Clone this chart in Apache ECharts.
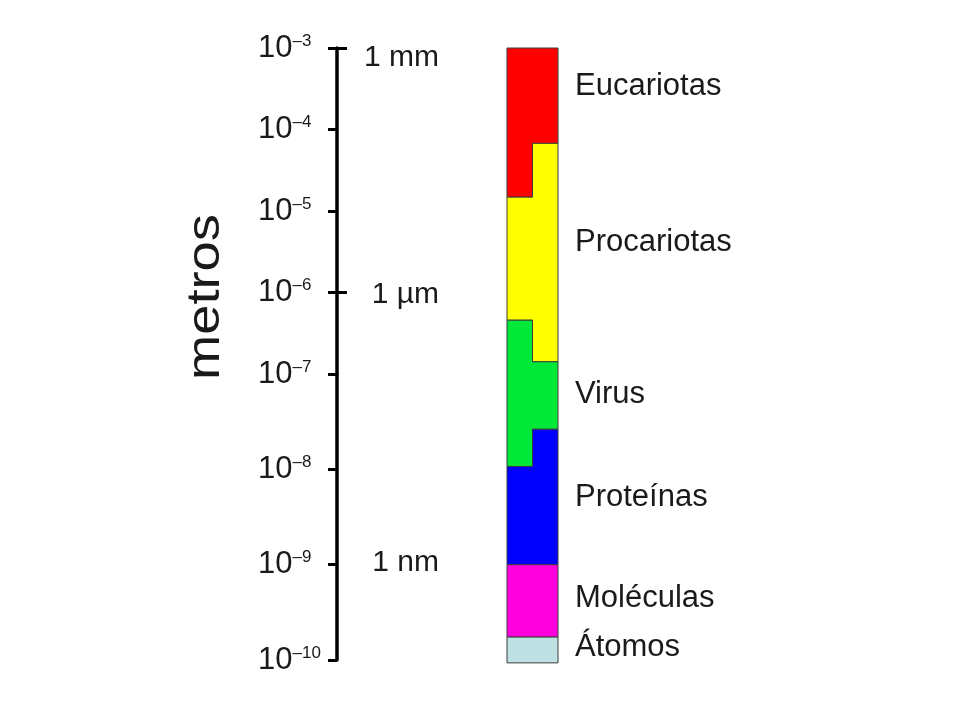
<!DOCTYPE html>
<html><head><meta charset="utf-8">
<script src="https://cdn.jsdelivr.net/npm/echarts@6/dist/echarts.min.js"></script>
<style>html,body{margin:0;padding:0;background:#fff}#c{width:960px;height:720px}</style>
</head><body><div id="c"></div>
<script>
// Size ranges as exponents of ten (metres). The bar has a left and a right column.
const categories  = ['Eucariotas', 'Procariotas', 'Virus', 'Proteínas', 'Moléculas', 'Átomos'];
const leftTop     = [-3.00, -4.83, -6.34, -7.97, -9.00, -9.76];
const leftBottom  = [-4.83, -6.34, -7.97, -9.00, -9.76, -10.03];
const rightTop    = [-3.00, -4.17, -6.85, -7.58, -9.00, -9.76];
const rightBottom = [-4.17, -6.85, -7.58, -9.00, -9.76, -10.03];
const labelAt     = [-3.45, -5.36, -7.19, -8.27, -9.33, -9.85];
const tickExponents = [-3, -4, -5, -6, -7, -8, -9, -10];
const unitValues  = [-3, -6, -9];
const unitLabels  = ['1 mm', '1 µm', '1 nm'];
const upperRange  = [-7, -3];
const lowerRange  = [-10, -7];

const palette = ['#ff0000', '#ffff00', '#00e838', '#0000ff', '#ff00dc', '#bee1e4'];
const TXT = '#1a1a1a';
const FONT = 'Liberation Sans';

const chart = echarts.init(document.getElementById('c'), null, {renderer: 'canvas'});

function makeRender(isTop) {
  const range = isTop ? upperRange : lowerRange;
  return function (params, api) {
    const i = api.value(0);
    const cs = params.coordSys;
    const p = (x, y) => api.coord([x, y]);
    const pts = [
      p(0, leftTop[i]), p(1, leftTop[i]), p(1, rightTop[i]), p(2, rightTop[i]),
      p(2, rightBottom[i]), p(1, rightBottom[i]), p(1, leftBottom[i]), p(0, leftBottom[i])
    ];
    const clip = isTop
      ? {x: cs.x - 20, y: 0, width: cs.width + 40, height: cs.y + cs.height}
      : {x: cs.x - 20, y: cs.y, width: cs.width + 40, height: 2000};
    const children = [{
      type: 'polygon',
      shape: {points: pts},
      style: {fill: palette[i], stroke: '#3c3c3c', lineWidth: 1},
      clipPath: {type: 'rect', shape: clip}
    }];
    if (labelAt[i] >= range[0] && labelAt[i] <= range[1]) {
      const a = p(2, labelAt[i]);
      children.push({
        type: 'text', x: a[0] + 17, y: a[1] + 2,
        style: {text: categories[i], fill: TXT, fontSize: 31, fontFamily: FONT, align: 'left', verticalAlign: 'middle'}
      });
    }
    return {type: 'group', children: children};
  };
}

const expRich = {
  b: {fontSize: 31, fontFamily: FONT, color: TXT},
  s: {fontSize: 17, fontFamily: FONT, color: TXT, verticalAlign: 'top', padding: [0, 0, 12, 0]}
};
function expFormatter(v) { return '{b|10}{s|–' + Math.abs(Math.round(v)) + '}'; }
function unitFormatter(v) {
  const k = unitValues.indexOf(Math.round(v));
  return k < 0 ? '' : '{u' + k + '|' + unitLabels[k] + '}';
}
const unitRich = {
  u0: {fontSize: 30, fontFamily: FONT, color: TXT, padding: [20, 0, 0, 0]},
  u1: {fontSize: 30, fontFamily: FONT, color: TXT, padding: [4, 0, 0, 0]},
  u2: {fontSize: 30, fontFamily: FONT, color: TXT, padding: [0, 0, 4, 0]}
};

function mainAxis(g, range) {
  return {
    gridIndex: g, type: 'value', min: range[0], max: range[1], interval: 1,
    position: 'left', offset: 170,
    axisLine: {show: true, onZero: false, lineStyle: {color: '#000', width: 3.5}},
    axisTick: {show: true, length: 9, lineStyle: {color: '#000', width: 3}},
    splitLine: {show: false},
    axisLabel: {
      customValues: tickExponents.filter(v => v >= range[0] && v <= range[1] && !(g === 1 && v === range[1])),
      align: 'left', margin: 79, formatter: expFormatter, rich: expRich
    }
  };
}
function unitAxis(g, range, crossTicks) {
  return {
    gridIndex: g, type: 'value', min: range[0], max: range[1], interval: 1,
    position: 'left', offset: 170,
    axisLine: {show: false, onZero: false},
    axisTick: {show: crossTicks.length > 0, inside: true, length: 10, customValues: crossTicks,
               lineStyle: {color: '#000', width: 3}},
    splitLine: {show: false},
    axisLabel: {
      inside: true, margin: 102, align: 'right',
      customValues: unitValues.filter(v => v >= range[0] && v <= range[1]),
      formatter: unitFormatter, rich: unitRich
    }
  };
}

const option = {
  backgroundColor: '#fff',
  animation: false,
  grid: [
    {left: 507, width: 51, top: 48, height: 326},
    {left: 507, width: 51, top: 374, height: 286}
  ],
  xAxis: [
    {gridIndex: 0, type: 'value', min: 0, max: 2, show: false},
    {gridIndex: 1, type: 'value', min: 0, max: 2, show: false}
  ],
  yAxis: [
    mainAxis(0, upperRange),
    unitAxis(0, upperRange, [-3, -6]),
    mainAxis(1, lowerRange),
    unitAxis(1, lowerRange, [])
  ],
  graphic: [{
    type: 'text', x: 206, y: 297, rotation: Math.PI / 2, scaleX: 1.18, scaleY: 1,
    style: {text: 'metros', fontSize: 46, fontFamily: FONT, fill: TXT, align: 'center', verticalAlign: 'middle'}
  }],
  series: [
    {type: 'custom', xAxisIndex: 0, yAxisIndex: 0, renderItem: makeRender(true),
     data: categories.map((c, i) => [i]), silent: true},
    {type: 'custom', xAxisIndex: 1, yAxisIndex: 2, renderItem: makeRender(false),
     data: categories.map((c, i) => [i]), silent: true}
  ]
};
chart.setOption(option);
</script>
</body></html>
